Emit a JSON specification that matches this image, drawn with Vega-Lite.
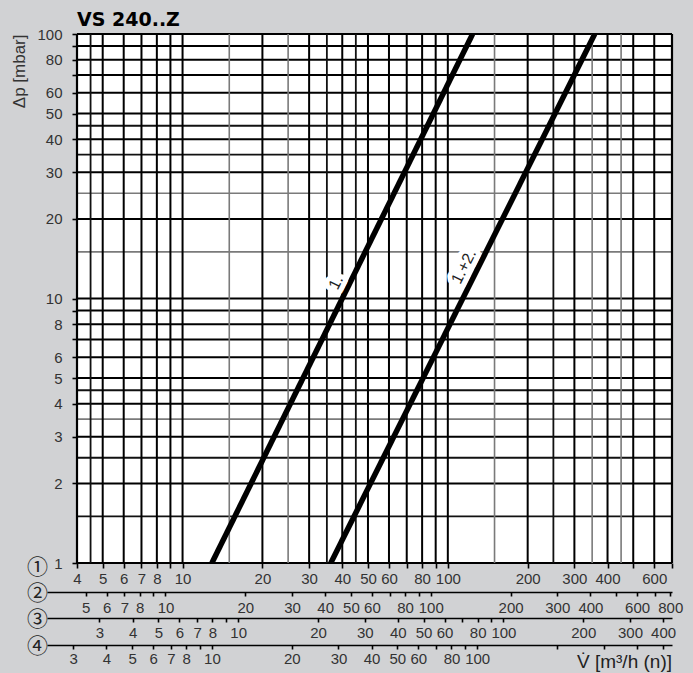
{
  "$schema": "https://vega.github.io/schema/vega-lite/v6.json",
  "width": 595,
  "height": 529,
  "autosize": {"type": "none"},
  "padding": {"left": 77, "top": 34, "right": 21, "bottom": 110},
  "background": "#d1d2d4",
  "title": {"text": "VS 240..Z", "anchor": "start", "frame": "group", "font": "DejaVu Sans", "fontSize": 19, "fontWeight": "bold", "color": "#000", "offset": -3},
  "config": {
    "view": {"fill": "white", "stroke": null},
    "axis": {"labelFont": "Liberation Sans", "labelFontSize": 15, "labelColor": "#333", "labelFlush": false, "labelOverlap": false, "labelBound": false, "grid": false}
  },
  "datasets": {
    "vgrid": [
      {"v": 4, "k": "edge"}, {"v": 700, "k": "edge"},
      {"v": 5, "k": "major"}, {"v": 6, "k": "major"}, {"v": 7, "k": "major"}, {"v": 8, "k": "major"}, {"v": 9, "k": "major"}, {"v": 10, "k": "major"},
      {"v": 20, "k": "major"}, {"v": 30, "k": "major"}, {"v": 40, "k": "major"}, {"v": 50, "k": "major"}, {"v": 60, "k": "major"}, {"v": 70, "k": "major"}, {"v": 80, "k": "major"}, {"v": 90, "k": "major"}, {"v": 100, "k": "major"},
      {"v": 200, "k": "major"}, {"v": 300, "k": "major"}, {"v": 400, "k": "major"}, {"v": 500, "k": "major"}, {"v": 600, "k": "major"},
      {"v": 4.5, "k": "minor"}, {"v": 35, "k": "minor"}, {"v": 45, "k": "minor"}, {"v": 250, "k": "minor"},
      {"v": 15, "k": "gray"}, {"v": 25, "k": "gray"}, {"v": 150, "k": "gray"}, {"v": 350, "k": "gray"}, {"v": 450, "k": "gray"}
    ],
    "hgrid": [
      {"v": 1, "k": "edge"}, {"v": 100, "k": "edge"},
      {"v": 2, "k": "major"}, {"v": 3, "k": "major"}, {"v": 4, "k": "major"}, {"v": 5, "k": "major"}, {"v": 6, "k": "major"}, {"v": 7, "k": "major"}, {"v": 8, "k": "major"}, {"v": 9, "k": "major"}, {"v": 10, "k": "major"},
      {"v": 20, "k": "major"}, {"v": 30, "k": "major"}, {"v": 40, "k": "major"}, {"v": 50, "k": "major"}, {"v": 60, "k": "major"}, {"v": 70, "k": "major"}, {"v": 80, "k": "major"}, {"v": 90, "k": "major"},
      {"v": 1.5, "k": "minor"}, {"v": 2.5, "k": "minor"}, {"v": 4.5, "k": "minor"}, {"v": 35, "k": "minor"}, {"v": 45, "k": "minor"},
      {"v": 3.5, "k": "gray"}, {"v": 15, "k": "gray"}, {"v": 25, "k": "gray"}
    ],
    "curves": [
      {"curve": "1.", "q": 12.9, "dp": 1}, {"curve": "1.", "q": 124, "dp": 100},
      {"curve": "1.+2.", "q": 36.2, "dp": 1}, {"curve": "1.+2.", "q": 358, "dp": 100}
    ],
    "curveLabels": [
      {"label": "1.", "q": 37.9, "dp": 11.5},
      {"label": "1.+2.", "q": 115, "dp": 13.2}
    ],
    "unit": [{"t": "V̇   [m³/h (n)]", "q": 700, "dp": 0.401}],
    "scale2": [{"v": 5}, {"v": 6}, {"v": 7}, {"v": 8}, {"v": 9}, {"v": 10}, {"v": 20}, {"v": 30}, {"v": 40}, {"v": 50}, {"v": 60}, {"v": 70}, {"v": 80}, {"v": 90}, {"v": 100}, {"v": 200}, {"v": 300}, {"v": 400}, {"v": 500}, {"v": 600}, {"v": 700}, {"v": 800}],
    "scale3": [{"v": 3}, {"v": 4}, {"v": 5}, {"v": 6}, {"v": 7}, {"v": 8}, {"v": 9}, {"v": 10}, {"v": 20}, {"v": 30}, {"v": 40}, {"v": 50}, {"v": 60}, {"v": 70}, {"v": 80}, {"v": 90}, {"v": 100}, {"v": 200}, {"v": 300}, {"v": 400}],
    "scale4": [{"v": 3}, {"v": 4}, {"v": 5}, {"v": 6}, {"v": 7}, {"v": 8}, {"v": 9}, {"v": 10}, {"v": 20}, {"v": 30}, {"v": 40}, {"v": 50}, {"v": 60}, {"v": 70}, {"v": 80}, {"v": 90}, {"v": 100}, {"v": 200}, {"v": 300}, {"v": 400}, {"v": 500}]
  },
  "layer": [
    {
      "data": {"name": "hgrid"},
      "mark": {"type": "rule"},
      "encoding": {
        "y": {"field": "v", "type": "quantitative", "scale": {"type": "log", "domain": [1, 100], "nice": false},
          "axis": {"orient": "left", "values": [1, 2, 3, 4, 5, 6, 7, 8, 9, 10, 20, 30, 40, 50, 60, 70, 80, 90, 100],
            "labelExpr": "indexof([7, 9, 70, 90], datum.value) >= 0 ? '' : format(datum.value, 'd')",
            "domain": false, "ticks": true, "tickColor": "#000", "tickWidth": 1.6, "tickSize": 5, "labelPadding": 10,
            "title": "Δp [mbar]", "titleFont": "Liberation Sans", "titleFontSize": 17, "titleFontWeight": "normal", "titleColor": "#333",
            "titleAnchor": "end", "titlePadding": 8}},
        "color": {"field": "k", "type": "nominal", "scale": {"domain": ["edge", "major", "minor", "gray"], "range": ["#000000", "#000000", "#111111", "#7a7a7a"]}, "legend": null},
        "size": {"field": "k", "type": "ordinal", "scale": {"domain": ["edge", "major", "minor", "gray"], "range": [2.2, 1.6, 1, 1.2]}, "legend": null}
      }
    },
    {
      "data": {"name": "vgrid"},
      "mark": {"type": "rule"},
      "encoding": {
        "x": {"field": "v", "type": "quantitative", "scale": {"type": "log", "domain": [4, 700], "nice": false},
          "axis": {"orient": "bottom", "values": [4, 5, 6, 7, 8, 9, 10, 20, 30, 40, 50, 60, 70, 80, 90, 100, 200, 300, 400, 500, 600, 700],
            "labelExpr": "indexof([9, 70, 90, 500, 700], datum.value) >= 0 ? '' : format(datum.value, 'd')",
            "domain": false, "tickColor": "#000", "tickWidth": 1.6, "tickSize": 5, "labelPadding": 3,
            "title": "①", "titleFont": "Noto Sans CJK JP", "titleFontSize": 21, "titleFontWeight": "normal", "titleColor": "#222",
            "titleX": -40, "titleY": 4, "titleAlign": "center", "titleBaseline": "middle", "titleAngle": 0}},
        "color": {"field": "k", "type": "nominal", "legend": null},
        "size": {"field": "k", "type": "ordinal", "legend": null}
      }
    },
    {
      "data": {"name": "curves"},
      "mark": {"type": "line", "color": "#000", "strokeWidth": 5.5, "strokeCap": "butt", "clip": true},
      "encoding": {
        "x": {"field": "q", "type": "quantitative", "scale": {"type": "log", "domain": [4, 700], "nice": false}, "axis": null},
        "y": {"field": "dp", "type": "quantitative", "scale": {"type": "log", "domain": [1, 100], "nice": false}, "axis": null},
        "detail": {"field": "curve"}
      }
    },
    {
      "data": {"name": "curveLabels"},
      "mark": {"type": "text", "angle": 296.6, "font": "Liberation Sans", "fontSize": 16, "fill": "white", "stroke": "white", "strokeWidth": 10, "strokeJoin": "round"},
      "encoding": {
        "x": {"field": "q", "type": "quantitative", "scale": {"type": "log", "domain": [4, 700], "nice": false}, "axis": null},
        "y": {"field": "dp", "type": "quantitative", "scale": {"type": "log", "domain": [1, 100], "nice": false}, "axis": null},
        "text": {"field": "label"}
      }
    },
    {
      "data": {"name": "curveLabels"},
      "mark": {"type": "text", "angle": 296.6, "font": "Liberation Sans", "fontSize": 16, "fill": "#222"},
      "encoding": {
        "x": {"field": "q", "type": "quantitative", "scale": {"type": "log", "domain": [4, 700], "nice": false}, "axis": null},
        "y": {"field": "dp", "type": "quantitative", "scale": {"type": "log", "domain": [1, 100], "nice": false}, "axis": null},
        "text": {"field": "label"}
      }
    },
    {
      "data": {"name": "unit"},
      "mark": {"type": "text", "align": "right", "baseline": "alphabetic", "font": "Liberation Sans", "fontSize": 19, "fill": "#222"},
      "encoding": {
        "x": {"field": "q", "type": "quantitative", "scale": {"type": "log", "domain": [4, 700], "nice": false}, "axis": null},
        "y": {"field": "dp", "type": "quantitative", "scale": {"type": "log", "domain": [1, 100], "nice": false}, "axis": null},
        "text": {"field": "t"}
      }
    },
    {
      "data": {"name": "scale2"},
      "mark": {"type": "rule", "opacity": 0},
      "encoding": {
        "x": {"field": "v", "type": "quantitative", "scale": {"type": "log", "domain": [3.575, 812.1], "range": [-30, 595], "nice": false},
          "axis": {"orient": "bottom", "offset": 29, "values": [5, 6, 7, 8, 9, 10, 20, 30, 40, 50, 60, 70, 80, 90, 100, 200, 300, 400, 500, 600, 700, 800],
            "labelExpr": "indexof([9, 70, 90, 500, 700], datum.value) >= 0 ? '' : format(datum.value, 'd')",
            "domain": true, "domainColor": "#000", "domainWidth": 1.6, "tickColor": "#000", "tickWidth": 1.6, "tickSize": 4,
            "encode": {"ticks": {"update": {"y": {"value": -4}}}},
            "labelPadding": 4,
            "title": "②", "titleFont": "Noto Sans CJK JP", "titleFontSize": 21, "titleFontWeight": "normal", "titleColor": "#222",
            "titleX": -40, "titleY": 1, "titleAlign": "center", "titleBaseline": "middle", "titleAngle": 0}}
      }
    },
    {
      "data": {"name": "scale3"},
      "mark": {"type": "rule", "opacity": 0},
      "encoding": {
        "x": {"field": "v", "type": "quantitative", "scale": {"type": "log", "domain": [1.9024, 432.1], "range": [-30, 595], "nice": false},
          "axis": {"orient": "bottom", "offset": 55, "values": [3, 4, 5, 6, 7, 8, 9, 10, 20, 30, 40, 50, 60, 70, 80, 90, 100, 200, 300, 400],
            "labelExpr": "indexof([9, 70, 90], datum.value) >= 0 ? '' : format(datum.value, 'd')",
            "domain": true, "domainColor": "#000", "domainWidth": 1.6, "tickColor": "#000", "tickWidth": 1.6, "tickSize": 4,
            "encode": {"ticks": {"update": {"y": {"value": -4}}}},
            "labelPadding": 3,
            "title": "③", "titleFont": "Noto Sans CJK JP", "titleFontSize": 21, "titleFontWeight": "normal", "titleColor": "#222",
            "titleX": -40, "titleY": 1, "titleAlign": "center", "titleBaseline": "middle", "titleAngle": 0}}
      }
    },
    {
      "data": {"name": "scale4"},
      "mark": {"type": "rule", "opacity": 0},
      "encoding": {
        "x": {"field": "v", "type": "quantitative", "scale": {"type": "log", "domain": [2.389, 542.6], "range": [-30, 595], "nice": false},
          "axis": {"orient": "bottom", "offset": 82, "values": [3, 4, 5, 6, 7, 8, 9, 10, 20, 30, 40, 50, 60, 70, 80, 90, 100, 200, 300, 400, 500],
            "labelExpr": "indexof([9, 70, 90, 200, 300, 400, 500], datum.value) >= 0 ? '' : format(datum.value, 'd')",
            "domain": true, "domainColor": "#000", "domainWidth": 1.6, "tickColor": "#000", "tickWidth": 1.6, "tickSize": 4,
            "encode": {"ticks": {"update": {"y": {"value": -4}}}},
            "labelPadding": 2,
            "title": "④", "titleFont": "Noto Sans CJK JP", "titleFontSize": 21, "titleFontWeight": "normal", "titleColor": "#222",
            "titleX": -40, "titleY": 1, "titleAlign": "center", "titleBaseline": "middle", "titleAngle": 0}}
      }
    }
  ],
  "resolve": {"scale": {"x": "independent", "y": "independent"}}
}
